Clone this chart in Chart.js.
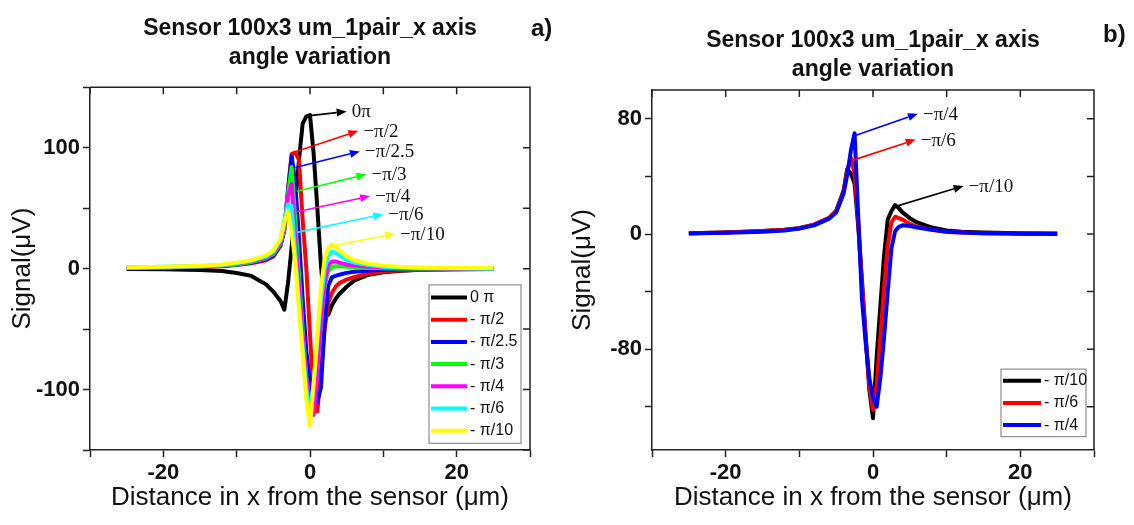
<!DOCTYPE html>
<html>
<head>
<meta charset="utf-8">
<script src="https://cdn.jsdelivr.net/npm/chart.js@4.4.1/dist/chart.umd.min.js"></script>
<style>
  html, body { margin: 0; padding: 0; background: #fff; overflow: hidden; }
  body { width: 1134px; height: 525px; position: relative; font-family: "Liberation Sans", Arial, sans-serif; }
  .panel { position: absolute; top: 0; }
  .tag { position: absolute; font-weight: bold; font-size: 24px; color: #111; }
</style>
</head>
<body>
<canvas id="chartA" class="panel" width="560" height="525" style="left:0"></canvas>
<canvas id="chartB" class="panel" width="574" height="525" style="left:560px"></canvas>
<div class="tag" style="left:531px; top:14px;">a)</div>
<div class="tag" style="left:1103px; top:20px;">b)</div>
<script>
// distance from the sensor (um), shared by every curve
const xPositions = [-25, -20, -15, -12, -10, -8, -6, -5, -4, -3.5, -3, -2.5, -2, -1.5, -1, -0.5,
  0, 0.5, 1, 1.5, 2, 2.5, 3, 3.5, 4, 5, 6, 8, 10, 12, 15, 20, 25];

// panel a) signal (uV)
const sigA_0pi  = [-0.2, -0.5, -1.2, -2, -3.6, -6, -13, -19, -27, -34, -12, 18, 55, 90, 120, 126,
  127, 95, 50, 2, -30, -38, -30, -25, -21, -15, -10, -5, -3, -2, -1, -0.4, -0.2];
const sigA_pi2  = [0.5, 0.8, 1.4, 2, 3, 4.5, 7, 10, 19, 32, 65, 95, 96, 90, 40, 0,
  -55, -105, -118, -85, -50, -28, -20, -15, -12, -9, -7, -4, -2.5, -1.5, -1, -0.5, -0.2];
const sigA_pi25 = [0.6, 0.9, 1.6, 2.3, 3.2, 5, 8, 11, 20, 32, 65, 93, 70, 25, -25, -68,
  -95, -108, -110, -98, -45, -14, -7, -6, -5, -3.5, -2.5, -1.5, -1, -0.6, -0.3, -0.1, 0];
const sigA_pi3  = [0.7, 1, 1.8, 2.5, 3.5, 5.5, 8.5, 12, 21, 33, 62, 84, 40, -5, -50, -90,
  -112, -114, -80, -45, -15, -2, 1.5, 2, 2, 1.5, 1, 0.5, 0.3, 0.2, 0, 0, 0];
const sigA_pi4  = [0.8, 1.2, 2, 2.8, 4, 6, 9, 13, 22, 35, 60, 70, 25, -15, -55, -90,
  -112, -121, -85, -45, -12, 3, 6, 6, 5, 3.5, 2.5, 1.5, 1, 0.5, 0.3, 0, 0];
const sigA_pi6  = [1, 1.5, 2, 3, 4.5, 6.5, 10, 14, 24, 40, 53, 52, 10, -30, -65, -100,
  -120, -95, -60, -25, 0, 11, 14, 13, 11, 7, 5, 3, 1.5, 1, 0.5, 0.3, 0];
const sigA_pi10 = [1, 1.5, 2.5, 3.5, 5, 7, 11, 15, 25, 38, 48, 30, 5, -33, -70, -108,
  -130, -95, -55, -15, 8, 17, 20, 18, 15, 10, 7, 4, 2.5, 1.5, 1, 0.5, 0.5];

// panel b) signal (uV)
const sigB_pi10 = [0.5, 1, 2, 3, 4, 6.5, 11, 16, 30, 45, 42, 35, 5, -32, -70, -108,
  -128, -85, -50, -15, 10, 16, 20, 18, 15, 11, 8, 4.5, 2.5, 1.5, 1, 0.5, 0.3];
const sigB_pi6  = [0.5, 1, 2, 3, 4, 6.5, 11, 16, 29, 44, 53, 42, 8, -35, -72, -105,
  -122, -105, -72, -38, -8, 8, 12, 11, 10, 7, 5, 3, 1.5, 1, 0.5, 0.3, 0.2];
const sigB_pi4  = [0.4, 0.8, 1.5, 2.5, 3.8, 6, 10.5, 15, 28, 41, 58, 70, 12, -45, -75, -100,
  -114, -120, -100, -72, -40, -10, 2, 5, 6, 5.5, 4.5, 3, 1.5, 1, 0.5, 0.2, 0];

const namesA  = ['0 \u03c0', '- \u03c0/2', '- \u03c0/2.5', '- \u03c0/3', '- \u03c0/4', '- \u03c0/6', '- \u03c0/10'];
const colorsA = ['#000000', '#ff0000', '#0000ff', '#00ff00', '#ff00ff', '#00ffff', '#ffff00'];
const namesB  = ['- \u03c0/10', '- \u03c0/6', '- \u03c0/4'];
const colorsB = ['#000000', '#ff0000', '#0000ff'];

const xTickLabels  = [-20, 0, 20];
const yTickLabelsA = [-100, 0, 100];
const yTickLabelsB = [-80, 0, 80];

// arrow callouts: [text, colour, fromX, fromY, toX, toY]
const calloutsA = [
  ['0\u03c0', '#000000', 0, 126.6, 5, 130],
  ['\u2212\u03c0/2', '#ff0000', -2.6, 95.4, 6.6, 114],
  ['\u2212\u03c0/2.5', '#0000ff', -2, 83.7, 6.8, 97],
  ['\u2212\u03c0/3', '#00ff00', -1.8, 64, 7.7, 78],
  ['\u2212\u03c0/4', '#ff00ff', -1.8, 47, 8.2, 60],
  ['\u2212\u03c0/6', '#00ffff', -1.8, 30, 10, 45],
  ['\u2212\u03c0/10', '#ffff00', 3.2, 19, 11.6, 29],
];
const calloutsB = [
  ['\u2212\u03c0/4', '#0000ff', -2.3, 68.6, 6.1, 83.5],
  ['\u2212\u03c0/6', '#ff0000', -2.7, 51.3, 5.8, 65.6],
  ['\u2212\u03c0/10', '#000000', 3, 19, 12.3, 33.4],
];

Chart.defaults.font.family = "'Liberation Sans', Arial, sans-serif";
Chart.defaults.color = '#111';

// top/right border with inward ticks
const framePlugin = {
  id: 'frame',
  afterDraw(chart) {
    const { ctx, chartArea: ca, scales: { x, y } } = chart;
    ctx.save();
    ctx.strokeStyle = '#222';
    ctx.lineWidth = 1.5;
    ctx.beginPath();
    ctx.moveTo(ca.left, ca.top);
    ctx.lineTo(ca.right, ca.top);
    ctx.lineTo(ca.right, ca.bottom);
    x.ticks.forEach(t => {
      const px = x.getPixelForValue(t.value);
      ctx.moveTo(px, ca.top);
      ctx.lineTo(px, ca.top + 7);
    });
    y.ticks.forEach(t => {
      const py = y.getPixelForValue(t.value);
      ctx.moveTo(ca.right, py);
      ctx.lineTo(ca.right - 7, py);
    });
    ctx.stroke();
    ctx.restore();
  }
};

// boxed legend inside the lower right corner
const boxLegend = {
  id: 'boxLegend',
  afterDatasetsDraw(chart, args, opts) {
    const { ctx, chartArea: ca } = chart;
    const sets = chart.data.datasets;
    const h = sets.length * opts.rowHeight + opts.padY * 2;
    const x0 = ca.right - opts.right - opts.width;
    const y0 = ca.bottom - opts.bottom - h;
    ctx.save();
    ctx.fillStyle = '#fff';
    ctx.fillRect(x0, y0, opts.width, h);
    ctx.strokeStyle = '#777';
    ctx.lineWidth = 1;
    ctx.strokeRect(x0, y0, opts.width, h);
    ctx.font = "16px 'Liberation Sans', Arial, sans-serif";
    ctx.textBaseline = 'middle';
    sets.forEach((ds, i) => {
      const cy = y0 + opts.padY + opts.rowHeight * (i + 0.5);
      ctx.strokeStyle = ds.borderColor;
      ctx.lineWidth = 4;
      ctx.beginPath();
      ctx.moveTo(x0 + 2, cy);
      ctx.lineTo(x0 + 2 + opts.sample, cy);
      ctx.stroke();
      ctx.fillStyle = '#111';
      ctx.fillText(ds.label, x0 + 5 + opts.sample, cy);
    });
    ctx.restore();
  }
};

function drawArrow(ctx, x1, y1, x2, y2, color) {
  const ang = Math.atan2(y2 - y1, x2 - x1);
  const head = 10, half = 4;
  const bx = x2 - head * Math.cos(ang), by = y2 - head * Math.sin(ang);
  ctx.strokeStyle = color;
  ctx.fillStyle = color;
  ctx.lineWidth = 1.6;
  ctx.beginPath();
  ctx.moveTo(x1, y1);
  ctx.lineTo(bx, by);
  ctx.stroke();
  ctx.beginPath();
  ctx.moveTo(x2, y2);
  ctx.lineTo(bx + half * Math.sin(ang), by - half * Math.cos(ang));
  ctx.lineTo(bx - half * Math.sin(ang), by + half * Math.cos(ang));
  ctx.closePath();
  ctx.fill();
}

const arrowNotes = {
  id: 'arrowNotes',
  afterDatasetsDraw(chart, args, opts) {
    const { ctx, scales: { x, y } } = chart;
    ctx.save();
    opts.items.forEach(([text, color, fx, fy, tx, ty]) => {
      const x1 = x.getPixelForValue(fx), y1 = y.getPixelForValue(fy);
      const x2 = x.getPixelForValue(tx), y2 = y.getPixelForValue(ty);
      drawArrow(ctx, x1, y1, x2, y2, color);
      ctx.fillStyle = '#111';
      ctx.font = "19px 'Liberation Serif', 'DejaVu Serif', serif";
      ctx.textBaseline = 'middle';
      ctx.fillText(text, x2 + 5, y2 + 1);
    });
    ctx.restore();
  }
};

function axisLook() {
  return {
    grid: { drawOnChartArea: false, drawTicks: true, tickLength: 7, tickColor: '#222', tickWidth: 1.5 },
    border: { display: true, color: '#222', width: 1.5 },
  };
}

function buildChart(canvasId, p) {
  const datasets = p.series.map((ys, i) => ({
    label: p.names[i],
    data: xPositions.map((x, k) => ({ x: x, y: ys[k] })),
    borderColor: p.colors[i],
    backgroundColor: p.colors[i],
    borderWidth: 4,
    pointRadius: 0,
    tension: 0,
    fill: false,
    borderJoinStyle: 'round',
    order: p.series.length - 1 - i,
  }));

  return new Chart(document.getElementById(canvasId), {
    type: 'line',
    data: { datasets: datasets },
    options: {
      responsive: false,
      animation: false,
      layout: { padding: { left: 3, right: p.padRight, top: 0, bottom: 8 } },
      plugins: {
        legend: { display: false },
        tooltip: { enabled: false },
        title: {
          display: true,
          fullSize: false,
          text: ['Sensor 100x3 um_1pair_x axis', 'angle variation'],
          font: { size: 23, weight: 'bold', lineHeight: 29 / 23 },
          color: '#111',
          padding: p.titlePad,
        },
        boxLegend: p.legend,
        arrowNotes: { items: p.callouts },
      },
      scales: {
        x: {
          type: 'linear',
          min: -30,
          max: 30,
          ...axisLook(),
          ticks: {
            stepSize: 10,
            autoSkip: false,
            maxRotation: 0,
            padding: 3,
            color: '#111',
            font: { size: 22, weight: 'bold' },
            callback: v => (xTickLabels.includes(v) ? String(v) : ''),
          },
          title: {
            display: true,
            text: 'Distance in x from the sensor (\u03bcm)',
            color: '#111',
            font: { size: 26 },
            padding: { top: 4, bottom: 4 },
          },
          afterFit: s => { s.height = 67; },
        },
        y: {
          type: 'linear',
          min: p.yMin,
          max: p.yMax,
          ...axisLook(),
          ticks: {
            stepSize: p.yStep,
            includeBounds: false,
            autoSkip: false,
            padding: 3,
            color: '#111',
            font: { size: 22, weight: 'bold' },
            callback: v => (p.yLabels.includes(v) ? String(v) : ''),
          },
          title: {
            display: true,
            text: 'Signal(\u03bcV)',
            color: '#111',
            font: { size: 26 },
            padding: { top: 4, bottom: 4 },
          },
          afterFit: s => { s.width = p.yAxisWidth; },
        },
      },
    },
    plugins: [framePlugin, boxLegend, arrowNotes],
  });
}

buildChart('chartA', {
  series: [sigA_0pi, sigA_pi2, sigA_pi25, sigA_pi3, sigA_pi4, sigA_pi6, sigA_pi10],
  names: namesA,
  colors: colorsA,
  yMin: -150, yMax: 150, yStep: 50, yLabels: yTickLabelsA,
  yAxisWidth: 87,
  padRight: 30,
  titlePad: { top: 14.5, bottom: 14.8 },
  legend: { width: 92, rowHeight: 22.2, padY: 1.5, right: 9, bottom: 6.7, sample: 36 },
  callouts: calloutsA,
});

buildChart('chartB', {
  series: [sigB_pi10, sigB_pi6, sigB_pi4],
  names: namesB,
  colors: colorsB,
  yMin: -150, yMax: 100, yStep: 40, yLabels: yTickLabelsB,
  yAxisWidth: 89,
  padRight: 40,
  titlePad: { top: 26.5, bottom: 5.5 },
  legend: { width: 85, rowHeight: 22.2, padY: 0.5, right: 8, bottom: 13.3, sample: 38 },
  callouts: calloutsB,
});
</script>
</body>
</html>
